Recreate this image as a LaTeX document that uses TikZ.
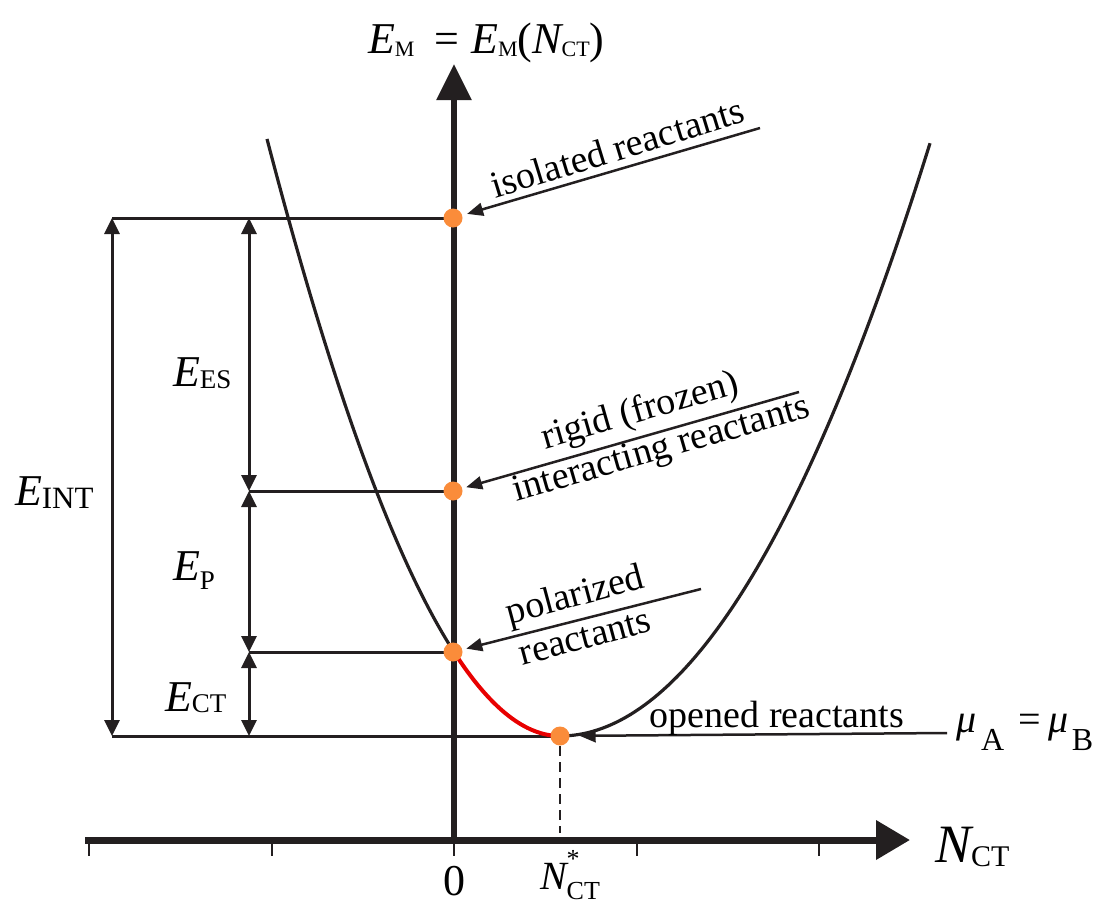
\documentclass[tikz,border=0pt]{standalone}
\usepackage{fontspec}
\IfFontExistsTF{LiberationSerif-Regular.ttf}
  {\setmainfont{LiberationSerif}[Extension=.ttf,UprightFont=*-Regular,ItalicFont=*-Italic,BoldFont=*-Bold,BoldItalicFont=*-BoldItalic]}
  {\setmainfont{Liberation Serif}}
\usetikzlibrary{arrows.meta}
\definecolor{dotorange}{RGB}{250,140,58}
\definecolor{curvered}{RGB}{232,0,0}
\definecolor{ink}{RGB}{35,31,32}
\newcommand\fs[1]{\fontsize{#1}{#1}\selectfont}
% big italic symbol, size, subscript size, subscript text, drop
\newcommand\symsub[5]{{\fs{#1}\itshape #2}\raisebox{-#5pt}{\fs{#3}#4}}
\begin{document}
\begin{tikzpicture}[x=1pt,y=-1pt,
  dot/.style={circle,fill=dotorange,inner sep=0pt,minimum size=19pt},
  ann/.style={ink,line width=2.5pt,-{Triangle[length=16pt,width=13pt]}},
  dimarrow/.style={ink,line width=3pt,{Triangle[length=16pt,width=15pt]}-{Triangle[length=16pt,width=15pt]}},
  hline/.style={ink,line width=3pt},
  curve/.style={ink,line width=3.2pt},
  lbl/.style={inner sep=0pt,outer sep=0pt},
  anntext/.style={inner sep=0pt,outer sep=0pt,font=\fs{38}},
  tick/.style={ink,line width=1.5pt}]
\useasboundingbox (0,0) rectangle (1105,905);
% key coordinates
\coordinate (p1) at (453,218);
\coordinate (p2) at (453,491);
\coordinate (p3) at (453,652);
\coordinate (p4) at (560,736);
\coordinate (l1) at (112,218);
\coordinate (l4) at (112,736);
\coordinate (m1) at (249,218);
\coordinate (m2) at (249,491);
\coordinate (m3) at (249,652);
\coordinate (m4) at (249,736);
\coordinate (yb) at (454,840);
\coordinate (yt) at (454,64);
\coordinate (xl) at (85,840);
\coordinate (xr) at (910,840);
% curve
\draw[curve] plot[domain=267:455,samples=80]
  ({\x},{736-77.72*((560-\x)/100)^2+2.79*((560-\x)/100)^3});
\draw[curve] plot[domain=560:930,samples=80]
  ({\x},{736-43.3*((\x-560)/100)^2});
% horizontal lines
\draw[hline] (l1) -- (p1);
\draw[hline] (m2) -- (p2);
\draw[hline] (m3) -- (p3);
\draw[hline] (l4) -- (p4);
% dimension arrows
\draw[dimarrow] (l1) -- (l4);
\draw[dimarrow] (m1) -- (m2);
\draw[dimarrow] (m2) -- (m3);
\draw[dimarrow] (m3) -- (m4);
% axes
\draw[ink,line width=6pt,-{Triangle[length=36pt,width=34pt]}] (yb) -- (yt);
\draw[ink,line width=7pt,-{Triangle[length=34pt,width=38pt]}] (xl) -- (xr);
\foreach \t in {89,272,454,637,819}{\draw[tick] (\t,844) -- (\t,856);}
\draw[ink,line width=2pt,dash pattern=on 10pt off 6pt] (560,746) -- (560,833);
% red part
\draw[curvered,line width=4pt] plot[domain=453:560,samples=50]
  ({\x},{736-77.72*((560-\x)/100)^2+2.79*((560-\x)/100)^3});
% dots
\node[dot] (d1) at (p1) {};
\node[dot] (d2) at (p2) {};
\node[dot] (d3) at (p3) {};
\node[dot] (d4) at (p4) {};
% annotation arrows
\coordinate (a1) at (760,128);
\coordinate (a2) at (799,392);
\coordinate (a3) at (701,589);
\coordinate (a4) at (947,733);
\draw[ann,shorten >=5pt] (a1) -- (d1);
\draw[ann,shorten >=4pt] (a2) -- (d2);
\draw[ann,shorten >=4pt] (a3) -- (d3);
\draw[ann,shorten >=10pt] (a4) -- (d4);
% annotation texts
\node[anntext,anchor=base,rotate=17] (t1) at (621,160) {isolated reactants};
\node[anntext,anchor=base,rotate=16] (t2a) at (643,421) {rigid (frozen)};
\node[anntext,anchor=base,rotate=16] (t2b) at (664,459) {interacting reactants};
\node[anntext,anchor=base,rotate=15] (t3a) at (578,606) {polarized};
\node[anntext,anchor=base,rotate=15] (t3b) at (588,648) {reactants};
\node[anntext,anchor=base] (t4) at (777,727) {opened reactants};
\node[lbl,anchor=base west] (mu) at (956,732)
  {{\fs{40}\itshape μ}\kern5pt\raisebox{-18pt}{\fs{32}A}\hspace{14pt}{\fs{40}=}\hspace{8pt}{\fs{40}\itshape μ}\kern3pt\raisebox{-18pt}{\fs{32}B}};
% energy labels
\node[lbl,anchor=base west] (eint) at (15,505) {\symsub{44}{E}{31}{INT}{3}};
\node[lbl,anchor=base west] (ees) at (173,386) {\symsub{44}{E}{27}{ES}{2}};
\node[lbl,anchor=base west] (ep) at (173,580) {\symsub{44}{E}{27}{P}{9}};
\node[lbl,anchor=base west] (ect) at (165,711) {\symsub{44}{E}{27}{CT}{1}};
% title
\node[lbl,anchor=base west] (title) at (368,53)
  {\symsub{44}{E}{22}{M}{3}\hspace{20pt}{\fs{44}=}\hspace{12pt}\symsub{44}{E}{22}{M}{3}{\fs{44}(}\symsub{44}{N}{22}{CT}{3}{\fs{44})}};
% axis labels
\node[lbl,anchor=base west] (ncta) at (935,862) {\symsub{54}{N}{30}{CT}{4}};
\node[lbl,anchor=base] (zero) at (454,895) {\fs{44}0};
\node[lbl,anchor=base west] (nstar) at (540,889)
  {{\fs{40}\itshape N}\rlap{\raisebox{22pt}{\fs{26}*}}\raisebox{-10pt}{\fs{26}CT}};
\end{tikzpicture}
\end{document}
